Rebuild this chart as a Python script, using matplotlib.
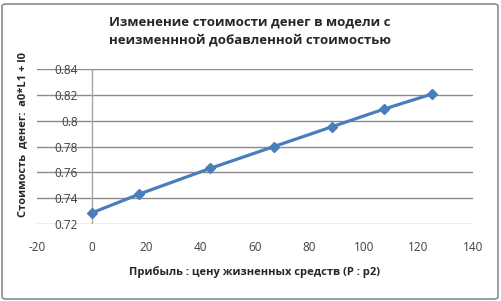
import matplotlib.pyplot as plt
from matplotlib.patches import FancyBboxPatch

# values
profit = [0, 17.6, 43.6, 67.0, 88.3, 107.4, 124.9]
money_value = [0.7285, 0.7432, 0.7631, 0.7800, 0.7953, 0.8090, 0.8206]
x_ticks = [-20, 0, 20, 40, 60, 80, 100, 120, 140]
y_ticks = [0.72, 0.74, 0.76, 0.78, 0.8, 0.82, 0.84]
y_tick_labels = ["0.72", "0.74", "0.76", "0.78", "0.8", "0.82", "0.84"]

title = "Изменение стоимости денег в модели с\nнеизменнной добавленной стоимостью"
x_label = "Прибыль : цену жизненных средств (P : p2)"
y_label = "Стоимость  денег:  a0*L1 + l0"

W, H = 501, 301
plt.rcParams['font.family'] = ['Open Sans', 'DejaVu Sans']
fig = plt.figure(figsize=(W / 100, H / 100), dpi=100)

# outer chart border
fig.patches.append(FancyBboxPatch((2 / W, 2 / H), 1 - 5 / W, 1 - 6 / H,
                                  boxstyle="round,pad=0,rounding_size=0.008",
                                  transform=fig.transFigure, fill=False,
                                  edgecolor="#8c8c8c", linewidth=1.2))

left, right, top, bottom = 37, 473, 69, 224
ax = fig.add_axes([left / W, (H - bottom) / H, (right - left) / W, (bottom - top) / H])

ax.set_xlim(-20, 140)
ax.set_ylim(0.72, 0.84)
for s in ax.spines.values():
    s.set_visible(False)

for y in y_ticks:
    ax.axhline(y, color="#8a8a8a" if y > 0.72 else "#a6a6a6", linewidth=1.0, zorder=1)
ax.axvline(0, color="#a6a6a6", linewidth=1.0, zorder=1)

ax.plot(profit, money_value, color="#4a7ebb", linewidth=2.3, marker="D",
        markersize=5.5, zorder=3, clip_on=False)

ax.set_xticks(x_ticks)
ax.set_xticklabels([str(v) for v in x_ticks])
ax.set_yticks(y_ticks)
ax.set_yticklabels(y_tick_labels)
ax.tick_params(axis='y', length=0, pad=-29.5, labelsize=8.5, labelcolor="#404040")
ax.tick_params(axis='x', length=0, pad=12, labelsize=8.5, labelcolor="#404040")
for lab in ax.get_yticklabels():
    lab.set_zorder(2)

fig.text(250 / W, 1 - 31 / H, title, ha='center', va='center', fontsize=9.5,
         fontweight='bold', color="#262626", linespacing=1.6)
fig.text(255 / W, 1 - 272 / H, x_label, ha='center', va='center', fontsize=8,
         fontweight='bold', color="#262626")
fig.text(23 / W, 1 - 135 / H, y_label, ha='center', va='center', rotation=90,
         fontsize=8, fontweight='bold', color="#262626")

fig.savefig("out.png", dpi=100)
